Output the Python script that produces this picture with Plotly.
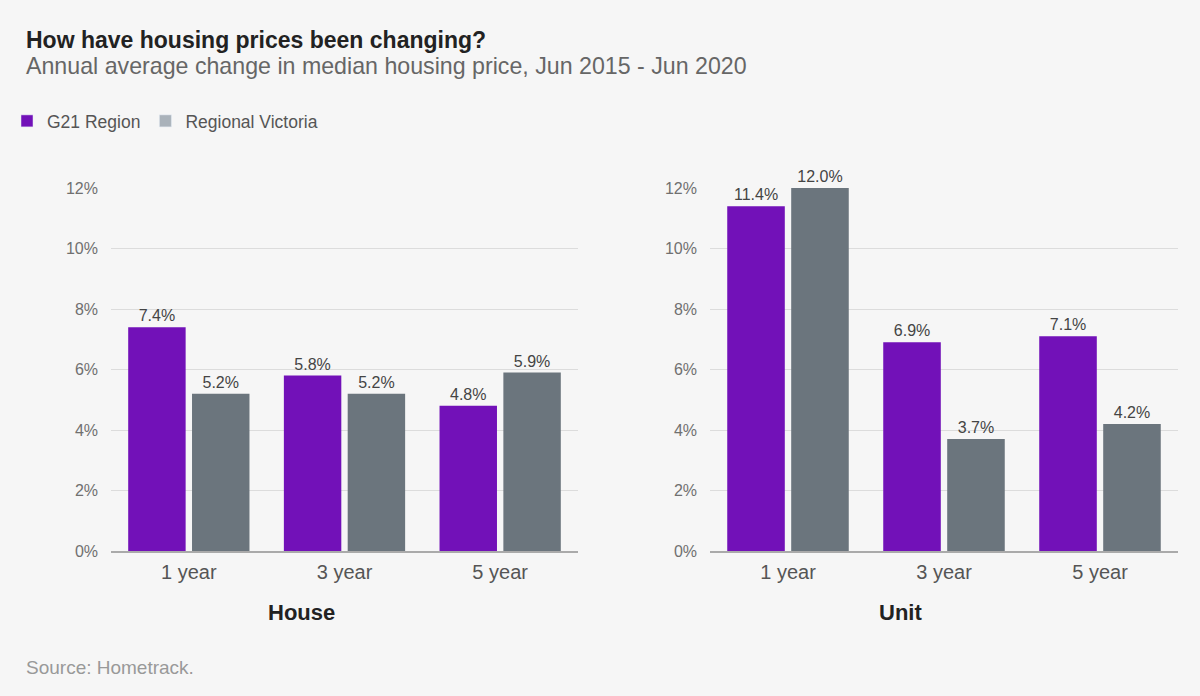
import plotly.graph_objects as go

categories = ["1 year", "3 year", "5 year"]
house_g21 = [7.4, 5.8, 4.8]
house_vic = [5.2, 5.2, 5.9]
unit_g21 = [11.4, 6.9, 7.1]
unit_vic = [12.0, 3.7, 4.2]
series_names = ["G21 Region", "Regional Victoria"]
panel_titles = ["House", "Unit"]
y_ticks = [0, 2, 4, 6, 8, 10, 12]

PURPLE = "#7211b8"
GRAY = "#6b757d"
GRAY_LEGEND = "#aab2ba"
FONT = "Arial, Liberation Sans, sans-serif"

fig = go.Figure()

def add_bars(xa, ya, g21, vic):
    for vals, col, name in [(g21, PURPLE, series_names[0]), (vic, GRAY, series_names[1])]:
        fig.add_trace(go.Bar(
            x=categories, y=vals, name=name, marker_color=col,
            marker_line_width=0, showlegend=False,
            text=[f"{v:.1f}%" for v in vals], textposition="outside",
            textfont=dict(size=16, color="#444444", family=FONT),
            cliponaxis=False, xaxis=xa, yaxis=ya, hoverinfo="skip",
        ))

add_bars("x", "y", house_g21, house_vic)
add_bars("x2", "y2", unit_g21, unit_vic)

# legend entries (on a hidden axis pair so they do not take bar slots)
for col, name in [(PURPLE, series_names[0]), (GRAY_LEGEND, series_names[1])]:
    fig.add_trace(go.Bar(x=[None], y=[None], name=name, marker_color=col,
                         showlegend=True, xaxis="x3", yaxis="y3"))

ydom = [1 - 551 / 696, 1 - 188 / 696]
yaxis_common = dict(
    range=[0, 12], tickvals=y_ticks, ticktext=[f"{t}%" for t in y_ticks],
    showgrid=True, gridcolor="#dcdcdc", gridwidth=1, zeroline=False,
    tickfont=dict(size=16, color="#707070", family=FONT),
    ticks="", ticklabelstandoff=12, domain=ydom, fixedrange=True, automargin=False,
)
xaxis_common = dict(
    showline=True, linecolor="#aaaaaa", linewidth=2, ticks="",
    tickfont=dict(size=20, color="#555555", family=FONT), ticklabelstandoff=2,
    automargin=False, fixedrange=True,
)

fig.update_layout(
    width=1200, height=696,
    paper_bgcolor="#f6f6f6", plot_bgcolor="#f6f6f6",
    margin=dict(l=0, r=0, t=0, b=0, autoexpand=False),
    barmode="group", bargap=0.18, bargroupgap=0.1,
    font=dict(family=FONT),
    xaxis=dict(domain=[111 / 1200, 578 / 1200], anchor="y", **xaxis_common),
    yaxis=dict(anchor="x", **yaxis_common),
    xaxis2=dict(domain=[710 / 1200, 1178 / 1200], anchor="y2", **xaxis_common),
    yaxis2=dict(anchor="x2", **yaxis_common),
    xaxis3=dict(domain=[0, 0.01], anchor="y3", visible=False),
    yaxis3=dict(domain=[0, 0.01], anchor="x3", visible=False),
    legend=dict(orientation="h", x=7 / 1200, y=1 - 121 / 696, xanchor="left", yanchor="middle",
                font=dict(size=17.5, color="#555555", family=FONT),
                bgcolor="rgba(0,0,0,0)", itemwidth=30, tracegroupgap=0),
    showlegend=True,
)

for txt, xc in zip(panel_titles, [301, 900]):
    fig.add_annotation(text="<b>" + txt + "</b>", xref="paper", yref="paper",
                       x=xc / 1200, y=1 - 612 / 696, xanchor="center", yanchor="middle",
                       showarrow=False, font=dict(size=22, color="#222222", family=FONT))

fig.add_annotation(text="<b>How have housing prices been changing?</b>", xref="paper", yref="paper",
                   x=24 / 1200, y=1 - 40 / 696, xanchor="left", yanchor="middle", showarrow=False,
                   font=dict(size=23, color="#222222", family=FONT))
fig.add_annotation(text="Annual average change in median housing price, Jun 2015 - Jun 2020", xref="paper", yref="paper",
                   x=24 / 1200, y=1 - 66 / 696, xanchor="left", yanchor="middle", showarrow=False,
                   font=dict(size=23.2, color="#666666", family=FONT))
fig.add_annotation(text="Source: Hometrack.", xref="paper", yref="paper",
                   x=24 / 1200, y=1 - 667 / 696, xanchor="left", yanchor="middle", showarrow=False,
                   font=dict(size=19, color="#999999", family=FONT))

fig.write_html("out.html", config={"displayModeBar": False},
               post_script="document.body.style.margin='0';document.body.style.background='#f6f6f6';")
